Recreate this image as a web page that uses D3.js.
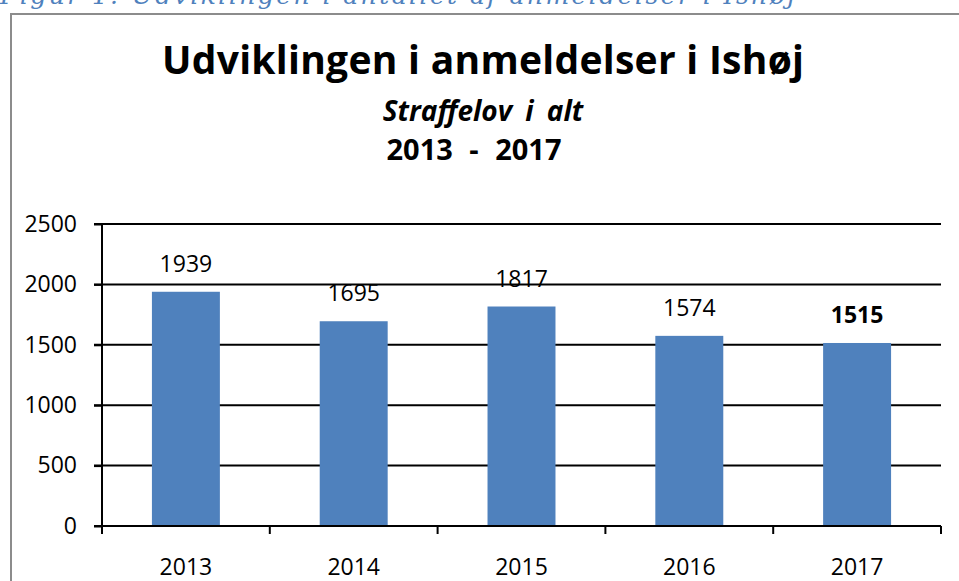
<!DOCTYPE html>
<html>
<head>
<meta charset="utf-8">
<script src="https://cdn.jsdelivr.net/npm/d3@7"></script>
<style>
  body { margin: 0; background: #fff; }
  svg { display: block; }
</style>
</head>
<body>
<div id="chart"></div>
<script>
// data
var years = ["2013", "2014", "2015", "2016", "2017"];
var counts = [1939, 1695, 1817, 1574, 1515];
var yTicks = [0, 500, 1000, 1500, 2000, 2500];
var boldLabel = "2017";

var W = 959, H = 581;
var margin = {top: 224, right: 18, bottom: 55, left: 102};
var width = W - margin.left - margin.right,
    height = H - margin.top - margin.bottom;

var svg = d3.select("#chart").append("svg")
    .attr("width", W)
    .attr("height", H)
    .style("font-family", "'Open Sans', 'DejaVu Sans', sans-serif");

// caption above the frame, cut off by the page edge like in the source
svg.append("text")
    .attr("x", 0)
    .attr("y", 4)
    .attr("fill", "#4f81bd")
    .style("font-family", "'DejaVu Serif', serif")
    .style("font-style", "italic")
    .style("font-size", "25px")
    .attr("textLength", 795)
    .text("Figur 1: Udviklingen i antallet af anmeldelser i Ishøj");

// chart frame
svg.append("rect")
    .attr("x", 11).attr("y", 14)
    .attr("width", W + 20).attr("height", H + 20)
    .attr("fill", "none")
    .attr("stroke", "#8c8c8c")
    .attr("stroke-width", 2);

// titles
svg.append("text")
    .attr("x", 483).attr("y", 74)
    .attr("text-anchor", "middle")
    .style("font-weight", "bold")
    .style("font-size", "39px")
    .attr("textLength", 642)
    .text("Udviklingen i anmeldelser i Ishøj");
svg.append("text")
    .attr("x", 483).attr("y", 121)
    .attr("text-anchor", "middle")
    .style("font-weight", "bold")
    .style("font-style", "italic")
    .style("font-size", "28px")
    .style("word-spacing", "6px")
    .text("Straffelov i alt");
svg.append("text")
    .attr("x", 474).attr("y", 160)
    .attr("text-anchor", "middle")
    .style("font-weight", "bold")
    .style("font-size", "29px")
    .style("word-spacing", "9px")
    .text("2013 - 2017");

var g = svg.append("g")
    .attr("transform", "translate(" + margin.left + "," + margin.top + ")");

var x = d3.scaleBand()
    .domain(years)
    .range([0, width])
    .paddingInner(0.595)
    .paddingOuter(0.2975);

var y = d3.scaleLinear()
    .domain([0, 2500])
    .range([height, 0]);

// gridlines
g.selectAll(".grid")
    .data(yTicks.filter(function(d) { return d > 0; }))
    .enter().append("line")
    .attr("x1", -8).attr("x2", width)
    .attr("y1", function(d) { return y(d); })
    .attr("y2", function(d) { return y(d); })
    .attr("stroke", "#000")
    .attr("stroke-width", 2);

// bars
g.selectAll(".bar")
    .data(counts)
    .enter().append("rect")
    .attr("x", function(d, i) { return x(years[i]); })
    .attr("y", function(d) { return y(d); })
    .attr("width", x.bandwidth())
    .attr("height", function(d) { return height - y(d); })
    .attr("fill", "#4f81bd");

// value labels
g.selectAll(".lbl")
    .data(counts)
    .enter().append("text")
    .attr("x", function(d, i) { return x(years[i]) + x.bandwidth() / 2; })
    .attr("y", function(d) { return y(d) - 20; })
    .attr("text-anchor", "middle")
    .style("font-size", "23px")
    .style("font-weight", function(d, i) { return years[i] === boldLabel ? "bold" : "normal"; })
    .text(function(d) { return d; });

// y axis
var yAxis = g.append("g")
    .call(d3.axisLeft(y).tickValues(yTicks).tickFormat(d3.format("d")).tickSize(8).tickPadding(17));
yAxis.select(".domain").attr("stroke-width", 2).attr("d", "M0," + height + "V0");
yAxis.selectAll(".tick line").attr("stroke-width", 2);
yAxis.selectAll("text")
    .style("font-size", "23px")
    .style("font-family", "'Open Sans', sans-serif")
    .attr("fill", "#000");

// x axis with ticks between categories
var xAxis = g.append("g")
    .attr("transform", "translate(0," + height + ")");
xAxis.append("line")
    .attr("x1", -8).attr("x2", width)
    .attr("stroke", "#000").attr("stroke-width", 2);
var bounds = d3.range(years.length + 1).map(function(i) { return i * width / years.length; });
xAxis.selectAll(".xt")
    .data(bounds)
    .enter().append("line")
    .attr("x1", function(d) { return d; })
    .attr("x2", function(d) { return d; })
    .attr("y1", 0).attr("y2", 8)
    .attr("stroke", "#000").attr("stroke-width", 2);
xAxis.selectAll(".xl")
    .data(years)
    .enter().append("text")
    .attr("x", function(d) { return x(d) + x.bandwidth() / 2; })
    .attr("y", 49)
    .attr("text-anchor", "middle")
    .style("font-size", "23px")
    .text(function(d) { return d; });
</script>
</body>
</html>
